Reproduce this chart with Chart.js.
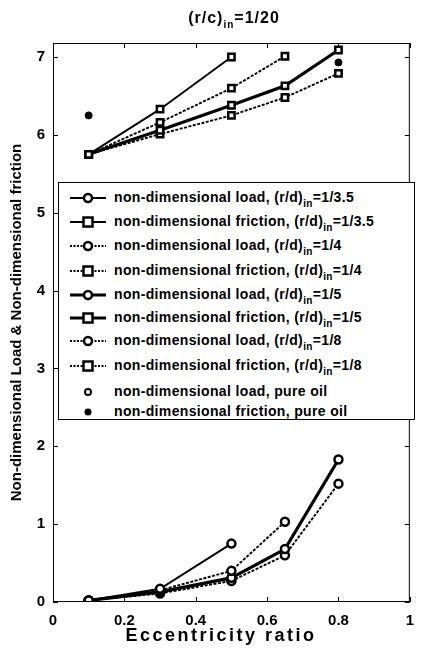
<!DOCTYPE html>
<html>
<head>
<meta charset="utf-8">
<script src="https://cdn.jsdelivr.net/npm/chart.js@4"></script>
<style>
  body { margin: 0; background: #fff; }
  #wrap { position: relative; width: 424px; height: 653px; font-family: 'Liberation Sans', Arial, sans-serif; font-weight: bold; color: #000; }
  #title { position: absolute; left: 0; top: 9px; width: 468px; text-align: center; font-size: 16px; letter-spacing: 1px; }
  #xtitle { position: absolute; left: 0; top: 625px; width: 442px; text-align: center; font-size: 18px; line-height: 20px; letter-spacing: 2.5px; }
  #legend { position: absolute; left: 58px; top: 182px; width: 357px; height: 238px; border: 1px solid #000; background: #fff; box-sizing: border-box; }
  .row { position: absolute; left: 0; height: 20px; width: 100%; }
  .row svg { position: absolute; left: 11px; top: 4px; }
  .row span { position: absolute; left: 55px; top: 1px; font-size: 14px; line-height: 16px; white-space: nowrap; letter-spacing: 0.35px; }
  sub { font-size: 10px; vertical-align: -5px; line-height: 0; }
</style>
</head>
<body>
<div id="wrap">
  <canvas id="c" width="424" height="653"></canvas>
  <div id="title">(r/c)<sub>in</sub>=1/20</div>
  <div id="xtitle">Eccentricity ratio</div>
  <div id="legend"></div>
</div>
<script>
// eccentricity ratio points
const ecc = [0.1, 0.3, 0.5, 0.65, 0.8];

// (r/d)in = 1/3.5
const load35 = [0.02, 0.17, 0.75];
const fric35 = [5.75, 6.33, 7.0];
// (r/d)in = 1/4
const load4 = [0.02, 0.15, 0.40, 1.03];
const fric4 = [5.75, 6.16, 6.60, 7.01];
// (r/d)in = 1/5
const load5 = [0.02, 0.13, 0.31, 0.68, 1.83];
const fric5 = [5.75, 6.06, 6.38, 6.63, 7.09];
// (r/d)in = 1/8
const load8 = [0.02, 0.11, 0.27, 0.60, 1.52];
const fric8 = [5.75, 6.01, 6.25, 6.48, 6.79];
// pure oil
const pureEcc = [0.1, 0.8];
const pureLoad = [0.02, 1.52];
const pureFric = [6.25, 6.93];

const xTicks = [0, 0.2, 0.4, 0.6, 0.8, 1];
const yTicks = [0, 1, 2, 3, 4, 5, 6, 7];

const pts = (xs, ys) => ys.map((y, i) => ({ x: xs[i], y: y }));
const FONT = "'Liberation Sans', Arial, sans-serif";

function series(label, ys, style, kind) {
  const dotted = style === 'dot';
  return {
    label: label,
    data: pts(ecc, ys),
    borderColor: '#000',
    backgroundColor: '#fff',
    borderWidth: style === 'thick' ? 3.2 : 1.9,
    borderDash: dotted ? [3, 1.5] : [],
    pointStyle: kind === 'load' ? 'circle' : 'rect',
    pointRadius: kind === 'load' ? 4 : 4.5,
    pointBorderWidth: 2.5,
    pointBorderColor: '#000',
    pointBackgroundColor: '#fff',
    fill: false,
    tension: 0
  };
}

const datasets = [
  series('load 1/3.5', load35, 'solid', 'load'),
  series('friction 1/3.5', fric35, 'solid', 'fric'),
  series('load 1/4', load4, 'dot', 'load'),
  series('friction 1/4', fric4, 'dot', 'fric'),
  series('load 1/5', load5, 'thick', 'load'),
  series('friction 1/5', fric5, 'thick', 'fric'),
  series('load 1/8', load8, 'dot', 'load'),
  series('friction 1/8', fric8, 'dot', 'fric'),
  {
    label: 'load pure oil', data: pts(pureEcc, pureLoad), showLine: false,
    pointStyle: 'circle', pointRadius: 3, pointBorderWidth: 2,
    pointBorderColor: '#000', pointBackgroundColor: '#fff'
  },
  {
    label: 'friction pure oil', data: pts(pureEcc, pureFric), showLine: false,
    pointStyle: 'circle', pointRadius: 3.5, pointBorderWidth: 1,
    pointBorderColor: '#000', pointBackgroundColor: '#000'
  }
];

// box round the plot with inward ticks on all sides
const frame = {
  id: 'frame',
  afterDraw(chart) {
    const { ctx, chartArea: a, scales } = chart;
    ctx.save();
    ctx.strokeStyle = '#000';
    ctx.lineWidth = 1;
    ctx.strokeRect(a.left + 0.5, a.top + 0.5, a.right - a.left - 1, a.bottom - a.top - 1);
    ctx.beginPath();
    xTicks.forEach(v => {
      const x = Math.round(scales.x.getPixelForValue(v)) + 0.5;
      ctx.moveTo(x, a.bottom); ctx.lineTo(x, a.bottom - 5);
      ctx.moveTo(x, a.top); ctx.lineTo(x, a.top + 5);
    });
    yTicks.forEach(v => {
      const y = Math.round(scales.y.getPixelForValue(v)) + 0.5;
      ctx.moveTo(a.left, y); ctx.lineTo(a.left + 5, y);
      ctx.moveTo(a.right, y); ctx.lineTo(a.right - 5, y);
    });
    ctx.stroke();
    ctx.restore();
  }
};

new Chart(document.getElementById('c'), {
  type: 'line',
  data: { datasets: datasets },
  options: {
    responsive: false,
    animation: false,
    layout: { padding: { top: 43, right: 4, left: 0, bottom: 0 } },
    plugins: { legend: { display: false }, tooltip: { enabled: false } },
    scales: {
      x: {
        type: 'linear', min: 0, max: 1,
        afterBuildTicks: s => { s.ticks = xTicks.map(v => ({ value: v })); },
        afterFit: s => { s.height = 51; },
        grid: { display: false, drawTicks: false },
        border: { display: false },
        ticks: {
          color: '#000', padding: 10, maxRotation: 0,
          font: { family: FONT, size: 15, weight: 'bold' },
          callback: v => String(Math.round(v * 10) / 10)
        },
        title: { display: false }
      },
      y: {
        type: 'linear', min: 0, max: 7.18,
        afterBuildTicks: s => { s.ticks = yTicks.map(v => ({ value: v })); },
        afterFit: s => { s.width = 53; },
        grid: { display: false, drawTicks: false },
        border: { display: false },
        ticks: {
          color: '#000', padding: 8,
          font: { family: FONT, size: 15, weight: 'bold' }
        },
        title: {
          display: true, text: 'Non-dimensional Load & Non-dimensional friction', color: '#000',
          font: { family: FONT, size: 15, weight: 'bold' },
          padding: { top: 8, bottom: 0 }
        }
      }
    }
  },
  plugins: [frame]
});

// legend with subscripts, as html
const legendRows = [
  ['non-dimensional load, (r/d)', '=1/3.5', 'solid', 'circle'],
  ['non-dimensional friction, (r/d)', '=1/3.5', 'solid', 'rect'],
  ['non-dimensional load, (r/d)', '=1/4', 'dot', 'circle'],
  ['non-dimensional friction, (r/d)', '=1/4', 'dot', 'rect'],
  ['non-dimensional load, (r/d)', '=1/5', 'thick', 'circle'],
  ['non-dimensional friction, (r/d)', '=1/5', 'thick', 'rect'],
  ['non-dimensional load, (r/d)', '=1/8', 'dot', 'circle'],
  ['non-dimensional friction, (r/d)', '=1/8', 'dot', 'rect'],
  ['non-dimensional load, pure oil', null, 'none', 'small'],
  ['non-dimensional friction, pure oil', null, 'none', 'filled']
];
const rowTops = [5, 29, 53, 78, 102, 125, 148, 173, 199, 219];

function markerSvg(style, kind) {
  let s = '<svg width="36" height="12" viewBox="0 0 36 12">';
  if (style !== 'none') {
    const w = style === 'thick' ? 3.2 : 1.8;
    const dash = style === 'dot' ? ' stroke-dasharray="2,1.5"' : '';
    s += '<line x1="0" y1="6" x2="36" y2="6" stroke="#000" stroke-width="' + w + '"' + dash + '/>';
  }
  if (kind === 'circle') s += '<circle cx="18" cy="6" r="4" fill="#fff" stroke="#000" stroke-width="2.5"/>';
  if (kind === 'rect') s += '<rect x="13.5" y="1.5" width="9" height="9" fill="#fff" stroke="#000" stroke-width="2.5"/>';
  if (kind === 'small') s += '<circle cx="18" cy="6" r="3" fill="#fff" stroke="#000" stroke-width="2"/>';
  if (kind === 'filled') s += '<circle cx="18" cy="6" r="3.5" fill="#000"/>';
  return s + '</svg>';
}

const legend = document.getElementById('legend');
legendRows.forEach((r, i) => {
  const row = document.createElement('div');
  row.className = 'row';
  row.style.top = rowTops[i] + 'px';
  const text = r[1] === null ? r[0] : r[0] + '<sub>in</sub>' + r[1];
  row.innerHTML = markerSvg(r[2], r[3]) + '<span>' + text + '</span>';
  legend.appendChild(row);
});
</script>
</body>
</html>
